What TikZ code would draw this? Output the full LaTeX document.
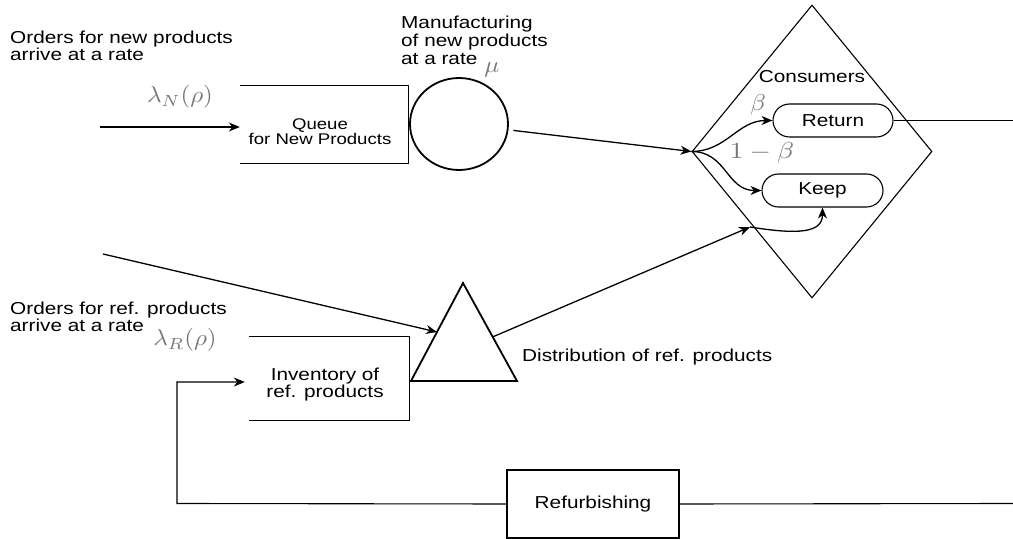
\documentclass[tikz,border=0pt]{standalone}
\usepackage{fontspec}
\setmainfont{Liberation Sans}[FakeStretch=1.2]
\usetikzlibrary{shapes.geometric,shapes.misc,arrows.meta,calc}
\definecolor{mgray}{HTML}{777777}
\newcommand\gm[1]{\textcolor{mgray}{\scalebox{2.5}[2.3]{$#1$}}}
\begin{document}
\begin{tikzpicture}[x=1pt,y=-1pt,
  lab/.style={inner sep=0, align=left, font=\fontsize{17.3}{15}\selectfont},
  ctext/.style={inner sep=0, align=center, font=\fontsize{17.3}{17}\selectfont},
  arr/.style={-{Stealth[length=11pt,width=9pt]}, line width=1.3pt},
  thin/.style={line width=1.1pt},
  thick2/.style={line width=1.8pt},
  pill/.style={draw, rounded rectangle, minimum width=120, minimum height=33, inner sep=0, line width=1.1pt, font=\fontsize{17.3}{17}\selectfont},
  mathlab/.style={inner sep=0}
]
\fill[white] (0,0) rectangle (1013,540);
\useasboundingbox (0,0) rectangle (1013,540);

% new products
\node[lab, anchor=base west] (o1) at (10,61) {Orders for new products\\arrive at a rate};
\node[mathlab] (lN) at (180,97) {\gm{\lambda_N(\rho)}};
\node[inner sep=0, minimum width=168, minimum height=77] (queue) at (324,124.5) {};
\draw[thin] (queue.north west) -- (queue.north east) -- (queue.south east) -- (queue.south west);
\node[ctext, font=\fontsize{15.5}{14}\selectfont, anchor=base] (qt) at (320,145) {Queue\\for New Products};
\coordinate (in1) at (100,127);
\draw[arr] (in1) -- (in1 -| queue.west);

% manufacturing
\node[draw, ellipse, thick2, minimum width=98, minimum height=92, inner sep=0] (mfg) at (459,124) {};
\node[lab, font=\fontsize{17.3}{18}\selectfont, anchor=base west] (mt) at (401,65) {Manufacturing\\of new products\\at a rate};
\node[mathlab] (mu) at (492,70) {\gm{\mu}};

% consumers
\node[draw, diamond, thin, minimum width=240, minimum height=293, inner sep=0] (cons) at (812,151.5) {};
\node[ctext, anchor=base] (ct) at (812,83) {Consumers};
\node[pill] (ret) at (833,120.5) {Return};
\node[pill, minimum width=121] (keep) at (822.5,190.5) {Keep};
\draw[arr, shorten <=5pt] (mfg) -- (cons.west);
\draw[arr] (cons.west) .. controls +(35,0) and +(-35,0) .. (ret.west);
\draw[arr] (cons.west) .. controls +(35,0) and +(-35,0) .. (keep.west);
\node[mathlab] (b1) at (758,105) {\gm{\beta}};
\node[mathlab] (b2) at (762,153) {\scalebox{1.1}[1]{\gm{1-\beta}}};
\coordinate (out1) at (1013,120.5);
\draw[thin] (ret.east) -- (out1);

% refurbished products
\node[lab, font=\fontsize{17.3}{16}\selectfont, anchor=base west] (o2) at (10,332) {Orders for ref. products\\arrive at a rate};
\node[mathlab] (lR) at (185,340) {\gm{\lambda_R(\rho)}};
\node[inner sep=0, minimum width=160, minimum height=83] (inv) at (329,378.5) {};
\draw[thin] (inv.north west) -- (inv.north east) -- (inv.south east) -- (inv.south west);
\node[ctext, anchor=base] (it) at (325,397) {Inventory of\\ref. products};

\coordinate (tA) at (463,283);
\coordinate (tB) at (411,381);
\coordinate (tC) at (517,381);
\draw[thick2, line join=miter] (tA) -- (tB) -- (tC) -- cycle;
\coordinate (tL) at ($(tA)!0.5!(tB)$);
\coordinate (tR) at ($(tA)!0.55!(tC)$);
\coordinate (in2) at (103,254);
\draw[arr] (in2) -- (tL);
\node[lab, anchor=base west] (dt) at (522,362) {Distribution of ref. products};
\coordinate (ent) at (750,227);
\draw[arr] (tR) -- (ent);
\draw[arr] (ent) .. controls +(50,8) and +(0,25) .. (keep.south);

% refurbishing loop
\node[draw, thin, minimum width=172, minimum height=68, inner sep=0, font=\fontsize{17.3}{17}\selectfont] (ref) at (593,504) {Refurbishing};
\coordinate (out2) at (1013,503.5);
\coordinate (bl) at (177,503.5);
\coordinate (tl) at (177,382);
\draw[thin] (out2) -- (ref.east);
\draw[arr, line width=1.1pt, shorten >=4pt] (ref.west) -- (bl) -- (tl) -- (tl -| inv.west);
\end{tikzpicture}
\end{document}
